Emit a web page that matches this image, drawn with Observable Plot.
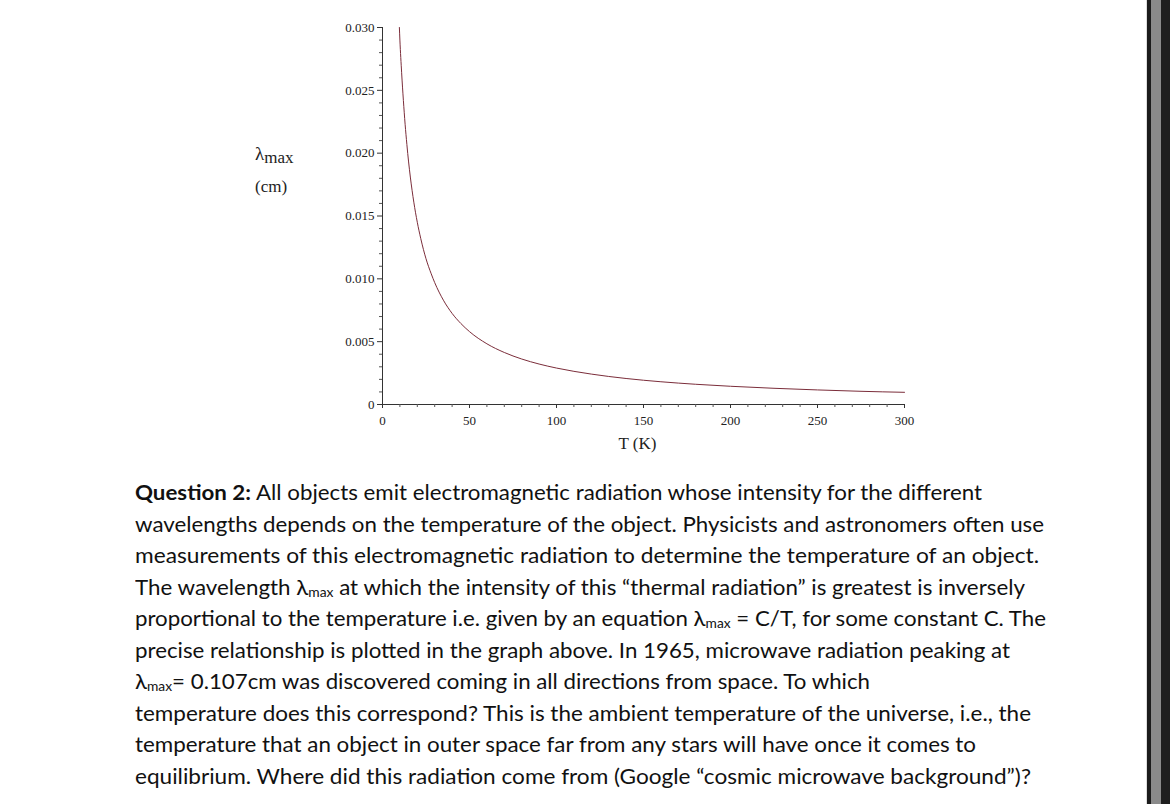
<!DOCTYPE html>
<html>
<head>
<meta charset="utf-8">
<script src="https://cdn.jsdelivr.net/npm/d3@7"></script>
<script src="https://cdn.jsdelivr.net/npm/@observablehq/plot@0.6"></script>
<style>
  html, body { margin: 0; padding: 0; background: #fff; }
  body { width: 1170px; height: 804px; position: relative; overflow: hidden; }
  #chart { position: absolute; left: 0; top: 0; }
  #ylab { position: absolute; left: 255px; top: 138px; font-family: "Liberation Serif", serif; font-size: 17px; color: #222; line-height: 32px; }
  #ylab .lam { font-size: 19px; }
  #ylab .sub { position: relative; top: 3px; }
  #para { position: absolute; left: 135px; top: 477px; font-family: Lato, "Open Sans", sans-serif; font-size: 20.5px; color: #111; }
  #para .ln { display: block; white-space: nowrap; height: 31.5px; line-height: 31.5px; transform-origin: 0 50%; width: max-content; }
  #para sub { font-size: 0.62em; vertical-align: -0.15em; }
  #strip { position: absolute; top: 0; right: 0; width: 24px; height: 804px; }
  #strip .a { position: absolute; left: 0; width: 1px; height: 100%; background: #ddd; }
  #strip .b { position: absolute; left: 1px; width: 4px; height: 100%; background: #1c1c1c; }
  #strip .c { position: absolute; left: 5px; width: 10px; height: 100%; background: #8a8a8a; }
  #strip .d { position: absolute; left: 15px; width: 9px; height: 100%; background: #1e1e1e; }
</style>
</head>
<body>
<div id="chart"></div>
<div id="ylab"><div><span class="lam">λ</span><span class="sub">max</span></div><div>(cm)</div></div>
<div id="para"></div>
<div id="strip"><div class="a"></div><div class="b"></div><div class="c"></div><div class="d"></div></div>
<script>
// Temperature (K) and peak wavelength (cm)
const temperature = [9.7, 10, 11, 12, 13, 14, 15, 16, 18, 20, 22, 25, 28, 30, 35, 40, 45, 50, 60, 70, 80, 90, 100, 120, 140, 160, 180, 200, 225, 250, 275, 300];
const lambdaMax = [0.0300, 0.0290, 0.0264, 0.0242, 0.0223, 0.0207, 0.0193, 0.0181, 0.0161, 0.0145, 0.0132, 0.0116, 0.0104, 0.0097, 0.0083, 0.00725, 0.00645, 0.0058, 0.00483, 0.00414, 0.00362, 0.00322, 0.0029, 0.00242, 0.00207, 0.00181, 0.00161, 0.00145, 0.00129, 0.00116, 0.00105, 0.00097];

const xMajorTicks = [0, 50, 100, 150, 200, 250, 300];
const xTickLabels = ["0", "50", "100", "150", "200", "250", "300"];
const xMinorTicks = [10, 20, 30, 40, 60, 70, 80, 90, 110, 120, 130, 140, 160, 170, 180, 190, 210, 220, 230, 240, 260, 270, 280, 290];
const yMajorTicks = [0, 0.005, 0.010, 0.015, 0.020, 0.025, 0.030];
const yTickLabels = ["0", "0.005", "0.010", "0.015", "0.020", "0.025", "0.030"];
const yMinorTicks = [0.001, 0.002, 0.003, 0.004, 0.006, 0.007, 0.008, 0.009, 0.011, 0.012, 0.013, 0.014, 0.016, 0.017, 0.018, 0.019, 0.021, 0.022, 0.023, 0.024, 0.026, 0.027, 0.028, 0.029];

const paragraphLines = [
  '<b>Question 2:</b> All objects emit electromagnetic radiation whose intensity for the different',
  'wavelengths depends on the temperature of the object. Physicists and astronomers often use',
  'measurements of this electromagnetic radiation to determine the temperature of an object.',
  'The wavelength λ<sub>max</sub> at which the intensity of this “thermal radiation” is greatest is inversely',
  'proportional to the temperature i.e. given by an equation λ<sub>max</sub> = C/T, for some constant C. The',
  'precise relationship is plotted in the graph above. In 1965, microwave radiation peaking at',
  'λ<sub>max</sub>= 0.107cm was discovered coming in all directions from space. To which',
  'temperature does this correspond? This is the ambient temperature of the universe, i.e., the',
  'temperature that an object in outer space far from any stars will have once it comes to',
  'equilibrium. Where did this radiation come from (Google “cosmic microwave background”)?'
];
const lineEnds = [982, 1044, 1039, 1025, 1046, 1010, 870, 1031, 976, 1031];

const data = temperature.map((t, i) => ({T: t, L: lambdaMax[i]}));
const xLab = new Map(xMajorTicks.map((v, i) => [v, xTickLabels[i]]));
const yLab = new Map(yMajorTicks.map((v, i) => [v, yTickLabels[i]]));

const chart = Plot.plot({
  width: 1170,
  height: 470,
  marginLeft: 382,
  marginRight: 266,
  marginTop: 27,
  marginBottom: 66,
  style: {fontFamily: "'Liberation Serif', serif", fontSize: "13px", color: "#222", background: "transparent"},
  x: {domain: [0, 300]},
  y: {domain: [0, 0.030]},
  marks: [
    Plot.ruleY([0], {stroke: "#333", strokeWidth: 1}),
    Plot.ruleX([0], {stroke: "#333", strokeWidth: 1}),
    Plot.axisY({ticks: yMinorTicks, tickSize: 3, text: null, label: null, stroke: "#555"}),
    Plot.axisY({ticks: yMajorTicks, tickSize: 5, tickPadding: 3, tickFormat: d => yLab.get(d), label: null, stroke: "#333", fill: "#222"}),
    Plot.axisX({ticks: xMinorTicks, tickSize: 3, text: null, label: null, stroke: "#555"}),
    Plot.axisX({ticks: xMajorTicks, tickSize: 4, tickPadding: 7, tickFormat: d => xLab.get(d), label: "T (K)", labelAnchor: "center", labelArrow: "none", labelOffset: 44, stroke: "#333", fill: "#222"}),
    Plot.line(data, {x: "T", y: "L", curve: "monotone-x", stroke: "#7b2d3a", strokeWidth: 1})
  ]
});
document.getElementById("chart").append(chart);
// enlarge the x-axis title
d3.select(chart).selectAll("g[aria-label='x-axis label'] text").style("font-size", "17px").attr("dx", -6);

const para = document.getElementById("para");
paragraphLines.forEach((html, i) => {
  const s = document.createElement("span");
  s.className = "ln";
  s.innerHTML = html;
  para.append(s);
  const w = s.getBoundingClientRect().width;
  const target = lineEnds[i] - 135;
  s.style.transform = `scaleX(${target / w})`;
});
</script>
</body>
</html>
